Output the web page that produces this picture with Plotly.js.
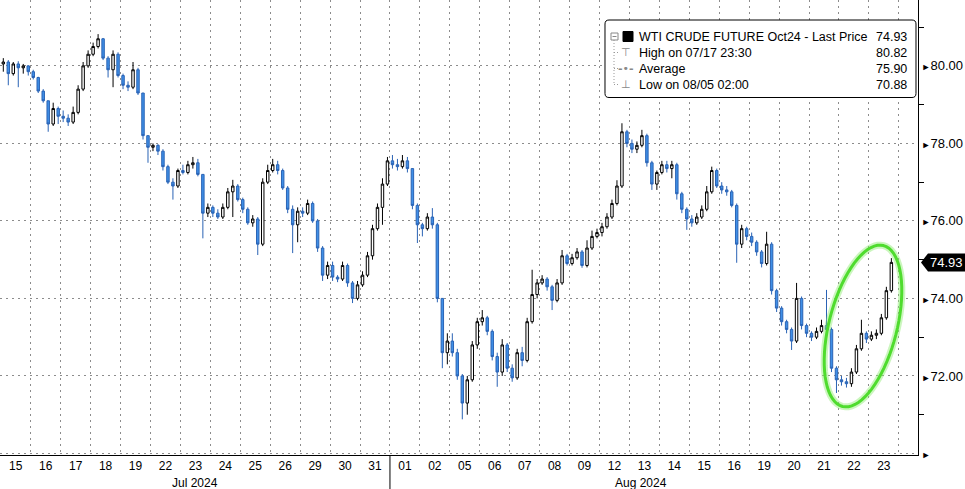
<!DOCTYPE html>
<html>
<head>
<meta charset="utf-8">
<script src="https://cdn.plot.ly/plotly-3.0.1.min.js"></script>
<style>html,body{margin:0;padding:0;background:#fff;}#chart{width:965px;height:489px;}</style>
</head>
<body>
<div id="chart"></div>
<script>
// ---- DATA ----
const dayLabels = ['15','16','17','18','19','22','23','24','25','26','29','30','31','01','02','05','06','07','08','09','12','13','14','15','16','19','20','21','22','23'];
const monthLabels = ['Jul 2024','Aug 2024'];
const firstOpen = 80.05;
const closeByDay = [
 [80.1,79.8,80.05,79.95,80.0,79.85],
 [79.7,79.35,79.1,78.5,78.9,78.7],
 [78.65,78.55,78.8,79.4,80.0,80.3],
 [80.5,80.7,80.2,79.9,80.3,79.75],
 [79.5,79.45,79.9,79.3,78.2,77.9],
 [77.95,77.8,77.4,77.0,76.9,77.3],
 [77.25,77.45,77.5,77.2,76.2,76.35],
 [76.2,76.1,76.35,76.75,76.9,76.55],
 [76.3,75.95,76.05,75.4,77.0,77.3],
 [77.45,77.3,76.85,76.3,75.9,76.25],
 [76.2,76.45,76.0,75.3,74.6,74.85],
 [74.55,74.5,74.85,74.4,74.0,74.35],
 [74.6,75.1,75.8,76.35,76.95,77.55],
 [77.45,77.4,77.55,77.35,76.4,75.9],
 [75.8,76.1,75.9,74.0,72.6,72.9],
 [72.6,72.0,71.3,71.9,72.8,73.4],
 [73.5,73.15,72.5,72.1,72.8,72.2],
 [71.95,72.6,72.4,73.4,74.1,74.4],
 [74.5,74.3,73.95,74.4,75.1,74.9],
 [75.05,75.2,74.85,75.3,75.6,75.7],
 [75.85,76.1,76.45,76.9,78.3,78.0],
 [77.85,77.95,78.2,77.5,76.95,77.25],
 [77.45,77.35,77.45,76.7,76.3,76.05],
 [75.95,76.1,76.3,76.75,77.3,76.9],
 [76.8,76.75,76.4,75.4,75.8,75.6],
 [75.45,75.2,74.9,75.4,74.2,73.75],
 [73.4,73.2,72.9,74.0,73.3,73.1],
 [73.0,73.15,73.3,73.2,72.2,71.9],
 [71.85,71.8,72.1,72.7,73.1,72.95],
 [73.05,73.1,73.5,74.2,74.93]
];
const highByDay = [
 [80.2,80.15,80.1,80.12,80.05,80.02],
 [79.9,79.72,79.4,79.1,79.05,78.95],
 [78.85,78.75,78.95,79.5,80.1,80.4],
 [80.6,80.82,80.72,80.25,80.4,80.35],
 [79.8,79.6,80.1,79.95,79.3,78.2],
 [78.0,77.98,77.85,77.45,77.1,77.35],
 [77.45,77.55,77.65,77.6,77.2,76.45],
 [76.4,76.3,76.45,76.85,77.06,76.95],
 [76.6,76.35,76.15,76.1,77.1,77.45],
 [77.6,77.55,77.35,76.9,76.4,76.35],
 [76.35,76.55,76.5,76.05,75.35,74.95],
 [74.95,74.6,74.95,74.9,74.45,74.45],
 [74.7,75.2,75.9,76.45,77.1,77.65],
 [77.7,77.6,77.7,77.65,77.35,76.45],
 [75.95,76.2,76.33,75.95,74.0,73.1],
 [73.1,72.7,72.05,72.0,72.9,73.5],
 [73.7,73.55,73.2,72.6,72.95,72.85],
 [72.3,72.7,72.75,73.5,74.74,74.5],
 [74.6,74.55,74.35,74.5,75.25,75.15],
 [75.15,75.3,75.25,75.5,75.75,75.8],
 [75.95,76.2,76.55,77.05,78.52,78.35],
 [78.1,78.05,78.35,78.25,77.55,77.3],
 [77.55,77.55,77.55,77.5,76.75,76.35],
 [76.15,76.2,76.4,76.9,77.4,77.35],
 [77.0,76.9,76.8,76.45,75.9,75.85],
 [75.7,75.5,75.25,75.72,75.45,74.25],
 [73.8,73.45,73.25,74.4,74.05,73.35],
 [73.15,73.25,73.45,74.22,73.25,72.25],
 [72.0,71.95,72.2,72.8,73.45,73.15],
 [73.15,73.2,73.6,74.3,75.04]
];
const lowByDay = [
 [79.85,79.5,79.75,79.45,79.8,79.75],
 [79.65,79.3,79.05,78.3,78.45,78.5],
 [78.55,78.45,78.5,78.75,79.35,79.95],
 [80.25,80.45,80.15,79.7,79.45,79.7],
 [79.4,79.35,79.4,79.25,78.1,77.5],
 [77.8,77.7,77.3,76.95,76.55,76.85],
 [77.2,77.2,77.35,77.15,75.55,76.1],
 [76.1,76.05,76.05,76.3,76.1,76.5],
 [76.2,75.9,75.85,75.12,75.35,76.95],
 [77.25,77.2,76.8,76.2,75.17,75.45],
 [76.1,76.15,75.95,75.2,74.45,74.5],
 [74.45,74.42,74.45,74.3,73.88,73.95],
 [74.3,74.55,75.0,75.75,75.9,76.9],
 [77.35,77.3,77.35,77.25,76.3,75.43],
 [75.6,75.75,75.8,73.9,72.2,72.3],
 [72.5,71.9,70.88,71.0,71.85,72.7],
 [73.3,73.05,72.4,71.72,72.0,72.1],
 [71.85,71.9,72.25,72.35,73.35,74.0],
 [74.35,74.2,73.7,73.9,74.35,74.85],
 [74.85,75.0,74.79,74.8,75.25,75.55],
 [75.6,75.8,76.05,76.4,76.85,77.9],
 [77.75,77.75,77.9,77.4,76.8,76.8],
 [77.2,77.25,77.1,76.55,76.2,75.77],
 [75.85,75.9,76.05,76.25,76.7,76.85],
 [76.7,76.65,76.35,74.92,75.3,75.5],
 [75.35,75.1,74.8,74.85,74.1,73.65],
 [73.3,73.1,72.67,72.85,73.2,73.0],
 [72.9,72.95,73.1,73.15,72.1,71.56],
 [71.75,71.7,71.72,72.05,72.65,72.85],
 [72.9,72.95,73.05,73.45,74.15]
];
const yTickVals = [70,72,74,76,78,80];
const yTickLabels = ['','72.00','74.00','76.00','78.00','80.00'];
const yMinorVals = [71,73,75,77,79,81];
const legendLabels = ['WTI CRUDE FUTURE Oct24 - Last Price','High on 07/17 23:30','Average','Low on 08/05 02:00'];
const legendValues = ['74.93','80.82','75.90','70.88'];
const lastPriceLabel = '74.93';

// ---- BUILD ----
const barsPerDay = 6;
const X=[],O=[],H=[],L=[],C=[];
let prev = firstOpen;
closeByDay.forEach((day,i)=>{
  day.forEach((c,j)=>{
    X.push(i + (j+0.5)/barsPerDay);
    O.push(prev); C.push(c);
    H.push(highByDay[i][j]); L.push(lowByDay[i][j]);
    prev = c;
  });
});
const lastClose = C[C.length-1];

const W=965, Hh=489, mL=0, mR=47, mT=0, mB=34;
const pw = W-mL-mR, ph = Hh-mT-mB;
const xMin=-0.027, xMax=30.64, yMin=69.96, yMax=81.7;
const px2p = x => x/pw;
const py2p = y => 1 - y/ph;
const font = 'Liberation Sans, Arial, sans-serif';

const shapes = [];
const annotations = [];

// month separator
const sepX = (13 - xMin)/(xMax - xMin);
shapes.push({type:'line', xref:'paper', yref:'paper', x0:sepX, x1:sepX, y0:0, y1:-mB/ph, line:{color:'#000', width:1}});
annotations.push({xref:'x', yref:'paper', x:6.5, y:0, yanchor:'top', yshift:-19, text:monthLabels[0], showarrow:false, font:{family:font, size:12, color:'#000'}});
annotations.push({xref:'x', yref:'paper', x:21.4, y:0, yanchor:'top', yshift:-19, text:monthLabels[1], showarrow:false, font:{family:font, size:12, color:'#000'}});

// legend box (rounded)
(function(){
  const x0=605, x1=916, y0=20, y1=97.5, r=4;
  const P=(x,y)=>px2p(x).toFixed(5)+','+py2p(y).toFixed(5);
  const path = 'M'+P(x0+r,y0)+' L'+P(x1-r,y0)+' Q'+P(x1,y0)+' '+P(x1,y0+r)+' L'+P(x1,y1-r)+' Q'+P(x1,y1)+' '+P(x1-r,y1)+
    ' L'+P(x0+r,y1)+' Q'+P(x0,y1)+' '+P(x0,y1-r)+' L'+P(x0,y0+r)+' Q'+P(x0,y0)+' '+P(x0+r,y0)+' Z';
  shapes.push({type:'path', xref:'paper', yref:'paper', path:path, fillcolor:'#fff', line:{color:'#000', width:1}, layer:'above'});
})();
const rowY = [36.5, 52.5, 68.5, 84.5];
// tree lines
shapes.push({type:'line', xref:'paper', yref:'paper', x0:px2p(614), x1:px2p(614), y0:py2p(40), y1:py2p(84.5), line:{color:'#999', width:1, dash:'1px,2px'}, layer:'above'});
[52.5,68.5,84.5].forEach(y=>shapes.push({type:'line', xref:'paper', yref:'paper', x0:px2p(614), x1:px2p(620), y0:py2p(y), y1:py2p(y), line:{color:'#999', width:1, dash:'1px,2px'}, layer:'above'}));
// collapse box
shapes.push({type:'rect', xref:'paper', yref:'paper', x0:px2p(611), x1:px2p(618), y0:py2p(33), y1:py2p(40), fillcolor:'#fff', line:{color:'#888', width:1}, layer:'above'});
shapes.push({type:'line', xref:'paper', yref:'paper', x0:px2p(612.5), x1:px2p(616.5), y0:py2p(36.5), y1:py2p(36.5), line:{color:'#888', width:1}, layer:'above'});
// black square
shapes.push({type:'rect', xref:'paper', yref:'paper', x0:px2p(623), x1:px2p(633), y0:py2p(31.5), y1:py2p(41.5), fillcolor:'#000', line:{color:'#000', width:1}, layer:'above'});
// icons
const iconTxt = ['⊤','<b>-</b>•<b>-</b>','⊥'];
[1,2,3].forEach((k,idx)=>annotations.push({xref:'paper', yref:'paper', x:px2p(626), y:py2p(rowY[k]), xanchor:'center', yanchor:'middle', text:iconTxt[idx], showarrow:false, font:{family:'DejaVu Sans', size:11, color:'#888'}}));
legendLabels.forEach((t,k)=>{
  annotations.push({xref:'paper', yref:'paper', x:px2p(637), y:py2p(rowY[k]), xanchor:'left', yanchor:'middle', text:t, showarrow:false, font:{family:font, size:12.5, color:'#000'}});
  annotations.push({xref:'paper', yref:'paper', x:px2p(909), y:py2p(rowY[k]), xanchor:'right', yanchor:'middle', text:legendValues[k], showarrow:false, font:{family:font, size:12.5, color:'#000'}});
});

// green ellipse
(function(){
  const cx=863, cy=326, a=83, b=34, phi=14.3*Math.PI/180;
  const ux=Math.sin(phi), uy=-Math.cos(phi), vx=Math.cos(phi), vy=Math.sin(phi);
  let d='';
  for(let k=0;k<=72;k++){
    const t=k/72*2*Math.PI;
    const x=cx + a*Math.cos(t)*ux + b*Math.sin(t)*vx;
    const y=cy + a*Math.cos(t)*uy + b*Math.sin(t)*vy;
    d += (k===0?'M':' L') + px2p(x).toFixed(5)+','+py2p(y).toFixed(5);
  }
  d+=' Z';
  shapes.push({type:'path', xref:'paper', yref:'paper', path:d, line:{color:'rgba(140,235,110,0.45)', width:7}, layer:'above'});
  shapes.push({type:'path', xref:'paper', yref:'paper', path:d, line:{color:'#4fdc2e', width:3}, layer:'above'});
})();

// last price tag
(function(){
  const yc = ph*(yMax-lastClose)/(yMax-yMin);
  const P=(x,y)=>px2p(x).toFixed(5)+','+py2p(y).toFixed(5);
  const d='M'+P(921,yc)+' L'+P(928,yc-9)+' L'+P(965,yc-9)+' L'+P(965,yc+9)+' L'+P(928,yc+9)+' Z';
  shapes.push({type:'path', xref:'paper', yref:'paper', path:d, fillcolor:'#000', line:{color:'#000', width:0}, layer:'above'});
  annotations.push({xref:'paper', yref:'y', x:px2p(946), y:lastClose, xanchor:'center', yanchor:'middle', text:lastPriceLabel, showarrow:false, font:{family:font, size:13, color:'#fff'}});
})();

const trace = {
  type:'candlestick', x:X, open:O, high:H, low:L, close:C,
  increasing:{line:{color:'#000', width:1}, fillcolor:'#ffffff'},
  decreasing:{line:{color:'#2a63b5', width:1}, fillcolor:'#3f8fe6'},
  whiskerwidth:0, hoverinfo:'skip'
};

const tri = '<span style="font-size:9px">►</span>';
const layout = {
  width:W, height:Hh,
  margin:{l:mL, r:mR, t:mT, b:mB, pad:0},
  paper_bgcolor:'#fff', plot_bgcolor:'#fff',
  showlegend:false,
  font:{family:font, color:'#000'},
  xaxis:{
    range:[xMin,xMax], tickmode:'array', tickvals:dayLabels.map((_,i)=>i+0.5), ticktext:dayLabels,
    showgrid:false, zeroline:false, showline:true, linecolor:'#000', linewidth:1, ticks:'',
    tickfont:{family:font, size:12, color:'#000'},
    minor:{tickmode:'linear', tick0:0, dtick:1, showgrid:true, gridcolor:'#8c8c8c', griddash:'2px,4px', gridwidth:1, ticks:''},
    rangeslider:{visible:false}, fixedrange:true
  },
  yaxis:{
    side:'right', range:[yMin,yMax], tickmode:'array', tickvals:yTickVals,
    ticktext:yTickLabels.map(t=>tri+t),
    showgrid:true, gridcolor:'#8c8c8c', griddash:'2px,4px', gridwidth:1,
    zeroline:false, showline:true, linecolor:'#000', linewidth:1, ticks:'',
    tickfont:{family:font, size:13, color:'#000'},
    minor:{tickmode:'array', tickvals:yMinorVals, ticks:'outside', ticklen:5, tickcolor:'#000', showgrid:false},
    fixedrange:true
  },
  shapes:shapes, annotations:annotations
};
Plotly.newPlot('chart',[trace],layout,{displayModeBar:false, staticPlot:true});
</script>
</body>
</html>
